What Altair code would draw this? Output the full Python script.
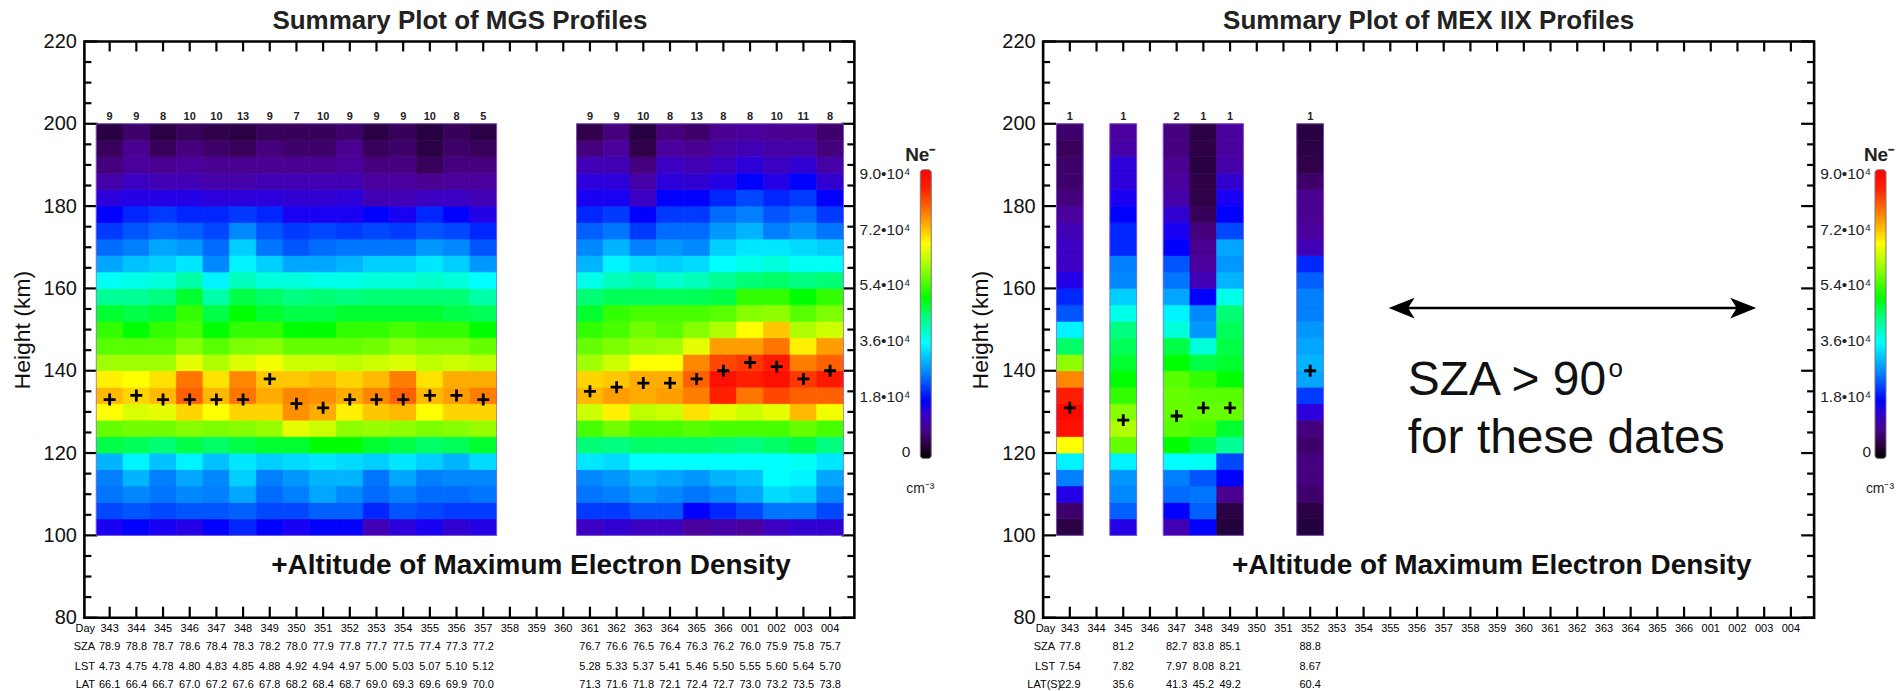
import altair as alt
import pandas as pd

FONT = "Liberation Sans"
DAYS = ["343","344","345","346","347","348","349","350","351","352","353","354","355","356","357","358","359","360","361","362","363","364","365","366","001","002","003","004"]
HEIGHTS = [102,106,110,114,118,122,126,130,134,138,142,146,150,154,158,162,166,170,174,178,182,186,190,194,198]

# Ne (units of 1e4 cm-3) per profile column, bottom to top
MGS_IDX = [0,1,2,3,4,5,6,7,8,9,10,11,12,13,14,18,19,20,21,22,23,24,25,26,27]
MGS_NE = [
 [1.7,2.1,2.5,2.6,3.0,4.8,5.4,6.7,7.2,6.8,6.0,5.3,5.1,4.9,4.3,3.7,2.9,2.4,2.0,1.8,1.5,1.1,0.8,0.6,0.35],
 [1.8,2.2,2.7,3.0,3.5,4.7,5.5,6.4,7.0,6.7,6.0,5.3,5.0,4.8,4.3,3.8,3.1,2.6,2.2,1.9,1.6,1.3,1.0,0.9,0.7],
 [1.7,2.1,2.5,2.6,3.1,4.5,5.5,6.5,7.2,6.9,6.0,5.3,5.1,4.9,4.4,3.9,3.2,2.9,2.4,2.0,1.6,1.2,0.9,0.6,0.4],
 [1.6,2.2,2.7,2.9,3.5,4.8,5.7,7.0,8.0,7.8,6.5,5.7,5.2,5.1,4.9,4.2,3.4,2.8,2.3,1.9,1.6,1.2,1.0,0.8,0.6],
 [1.8,2.2,2.6,2.7,3.1,4.6,5.6,6.7,7.2,6.9,6.1,5.3,5.0,4.8,4.2,3.5,2.7,2.4,2.1,1.9,1.5,1.1,0.9,0.7,0.5],
 [1.9,2.3,2.9,3.2,3.4,4.8,5.7,7.0,7.8,7.6,6.4,5.6,5.1,5.0,4.8,4.1,3.5,3.2,2.7,2.0,1.5,1.1,0.9,0.6,0.4],
 [1.8,2.1,2.4,2.6,3.2,4.9,5.9,7.0,7.3,7.1,6.6,5.7,5.1,4.9,4.6,3.9,3.2,2.5,2.2,1.9,1.5,1.2,0.9,0.8,0.6],
 [1.7,2.1,2.6,2.8,3.3,4.9,6.5,7.5,7.6,7.1,6.3,5.4,5.0,4.8,4.4,3.9,2.9,2.2,2.0,1.7,1.4,1.2,0.9,0.7,0.6],
 [1.8,2.3,2.9,3.0,3.4,5.0,6.3,7.3,7.5,7.2,6.3,5.4,5.0,4.8,4.5,3.8,2.9,2.4,2.1,1.7,1.4,1.2,0.9,0.7,0.6],
 [1.8,2.3,2.7,3.0,3.3,5.0,5.8,6.8,7.3,7.0,6.2,5.4,5.1,4.9,4.4,3.8,3.0,2.5,2.0,1.7,1.5,1.2,1.0,0.9,0.7],
 [1.2,1.9,2.4,2.5,3.2,4.9,5.9,7.1,7.6,7.2,6.3,5.5,5.1,4.9,4.5,3.9,3.2,2.5,2.1,1.8,1.2,1.0,0.8,0.6,0.4],
 [1.5,2.2,2.6,2.9,3.4,4.8,5.8,7.2,8.0,7.7,6.4,5.8,5.2,4.9,4.5,3.9,3.2,2.5,2.0,1.7,1.2,1.0,0.8,0.7,0.6],
 [1.7,2.1,2.4,2.6,3.2,4.6,5.6,6.7,7.2,6.9,6.2,5.6,5.1,4.9,4.5,4.0,3.4,2.8,2.2,1.9,1.3,0.9,0.6,0.4,0.3],
 [1.4,2.0,2.4,2.7,3.0,4.7,5.7,7.0,7.4,7.3,6.3,5.6,5.1,4.8,4.5,3.9,3.2,2.7,2.1,1.8,1.3,1.0,0.8,0.7,0.6],
 [1.6,2.0,2.5,2.7,3.3,4.9,5.9,7.0,7.7,7.3,6.2,5.4,5.0,4.7,4.2,3.6,2.8,2.2,1.9,1.6,1.2,1.0,0.8,0.6,0.4],
 [1.3,2.0,2.5,2.7,3.4,4.5,5.2,6.3,7.2,7.0,6.0,5.4,5.1,4.9,4.5,3.8,3.0,2.7,2.3,1.9,1.7,1.5,1.2,0.8,0.5],
 [1.4,2.0,2.6,2.8,3.3,4.4,5.5,6.8,7.4,7.1,6.3,5.6,5.2,5.1,4.7,4.1,3.5,3.0,2.5,2.0,1.7,1.5,1.2,1.0,0.8],
 [1.3,2.2,2.8,3.0,3.6,4.6,5.2,6.2,7.3,7.3,6.7,5.9,5.5,5.2,4.7,4.2,3.3,2.6,2.0,1.8,1.3,1.1,0.8,0.5,0.3],
 [1.3,2.2,2.7,2.9,3.6,4.6,5.2,6.3,7.4,7.3,6.7,6.0,5.3,5.2,4.7,4.0,3.2,2.8,2.4,2.0,1.8,1.5,1.3,1.0,0.8],
 [1.0,1.8,2.5,2.8,3.6,4.6,5.3,6.9,7.7,8.0,7.6,6.5,5.7,5.2,4.7,4.1,3.3,2.7,2.4,2.0,1.8,1.4,1.2,0.9,0.7],
 [1.1,1.9,2.7,3.0,3.6,4.5,5.2,6.5,8.4,8.8,8.2,7.4,6.1,5.3,4.8,4.3,3.6,3.2,2.8,2.4,1.9,1.6,1.3,1.1,0.9],
 [1.0,2.1,2.9,3.1,3.6,4.4,5.2,6.3,7.8,8.5,8.3,7.4,6.7,5.7,5.1,4.5,3.8,3.4,3.0,2.6,2.1,1.8,1.5,1.2,1.0],
 [1.3,2.5,3.3,3.6,3.6,4.6,5.2,6.5,8.2,8.8,8.6,7.8,7.1,5.8,5.1,4.6,3.9,3.4,2.6,2.2,1.9,1.6,1.3,1.1,0.9],
 [1.4,2.5,3.2,3.5,3.7,4.8,5.4,7.2,8.0,8.3,7.7,6.8,6.1,5.3,5.0,4.4,3.7,3.3,2.8,2.4,2.0,1.8,1.4,1.1,0.9],
 [1.4,2.1,2.7,2.9,3.4,4.4,5.2,6.6,8.0,8.6,8.0,7.4,6.3,5.6,5.1,4.5,3.7,3.2,2.5,2.0,1.8,1.4,1.1,0.8,0.7],
]
MGS_PEAK = [133,134,133,133,133,133,138,132,131,133,133,133,134,134,133,135,136,137,137,138,140,142,141,138,140]
MGS_COUNT = [9,9,8,10,10,13,9,7,10,9,9,9,10,8,5,9,9,10,8,13,8,8,10,11,8]
MGS_SZA = [78.9,78.8,78.7,78.6,78.4,78.3,78.2,78.0,77.9,77.8,77.7,77.5,77.4,77.3,77.2,76.7,76.6,76.5,76.4,76.3,76.2,76.0,75.9,75.8,75.7]
MGS_LST = [4.73,4.75,4.78,4.80,4.83,4.85,4.88,4.92,4.94,4.97,5.00,5.03,5.07,5.10,5.12,5.28,5.33,5.37,5.41,5.46,5.50,5.55,5.60,5.64,5.70]
MGS_LAT = [66.1,66.4,66.7,67.0,67.2,67.6,67.8,68.2,68.4,68.7,69.0,69.3,69.6,69.9,70.0,71.3,71.6,71.8,72.1,72.4,72.7,73.0,73.2,73.5,73.8]
MGS_BLOCKS = [(-0.5,14.5),(17.5,27.5)]

MEX_IDX = [0,2,4,5,6,9]
MEX_NE = [
 [0.4,0.7,1.6,2.6,3.5,6.7,8.8,8.9,8.5,7.6,5.8,4.6,3.5,2.2,1.9,1.6,1.3,1.3,1.2,1.0,0.8,0.7,0.7,0.6,0.7],
 [1.6,2.3,2.7,2.8,3.5,5.4,6.1,5.7,5.1,5.0,4.9,4.7,4.4,3.8,3.2,2.7,2.6,1.9,1.9,1.8,1.7,1.5,1.5,1.1,1.0],
 [1.2,1.8,2.4,2.6,3.6,5.0,5.3,5.4,5.4,5.3,5.0,4.8,3.9,3.5,2.9,2.5,2.2,1.8,1.7,1.4,1.1,1.0,0.9,0.8,0.8],
 [1.8,2.3,2.5,2.2,3.7,4.8,5.2,5.4,5.3,5.1,4.8,3.9,2.8,2.7,1.8,1.2,1.0,0.9,0.8,0.6,0.5,0.45,0.35,0.45,0.4],
 [0.15,0.4,0.9,1.8,2.1,4.3,4.9,5.4,5.3,5.0,4.9,4.8,4.7,4.5,3.8,3.0,2.8,2.9,2.1,1.8,1.7,1.4,1.1,1.0,1.0],
 [0.2,0.4,0.7,0.8,0.8,0.7,0.8,1.5,2.0,2.9,3.0,2.9,2.8,2.6,2.6,2.3,1.9,1.2,1.0,0.9,0.9,0.7,0.5,0.4,0.3],
]
MEX_PEAK = [131,128,129,131,131,140]
MEX_COUNT = [1,1,2,1,1,1]
MEX_SZA = [77.8,81.2,82.7,83.8,85.1,88.8]
MEX_LST = [7.54,7.82,7.97,8.08,8.21,8.67]
MEX_LAT = [22.9,35.6,41.3,45.2,49.2,60.4]
MEX_BLOCKS = [(-0.5,0.5),(1.5,2.5),(3.5,6.5),(8.5,9.5)]

CMAP_V = [0,0.5,0.9,1.4,1.8,2.7,3.6,4.4,5.0,6.0,6.7,7.5,8.4,9.0]
CMAP_C = ["#000000","#30004a","#4a0090","#3000d0","#0000ff","#0088ff","#00ffff","#00ff80","#00ff00","#a0ff00","#ffff00","#ff9000","#ff2000","#ff0000"]
BAR_TICKS = [0,1.8,3.6,5.4,7.2,9.0]
BAR_LABELS = ["0","1.8•10⁴","3.6•10⁴","5.4•10⁴","7.2•10⁴","9.0•10⁴"]
Y_MAJOR = [80,100,120,140,160,180,200,220]
Y_MINOR = [85,90,95,105,110,115,125,130,135,145,150,155,165,170,175,185,190,195,205,210,215]
ALT_NOTE = "+Altitude of Maximum Electron Density"

H = 577
ROW_Y = [588.5, 606.5, 626, 644.5]

def panel(title, dx, width, xdom, idx, ne, peak, count, sza, lst, lat, blocks, lat_name, note_x, extra=None):
    xs = alt.Scale(domain=xdom, nice=False, zero=False)
    ys = alt.Scale(domain=[80,220], nice=False, zero=False)
    ne_scale = alt.Scale(domain=CMAP_V, range=CMAP_C)
    yaxis = alt.Axis(values=Y_MAJOR, labelFontSize=20, labelFont=FONT, labelColor="#111", labelPadding=8, ticks=False, domain=False, grid=False, title="Height (km)", titleFontSize=23, titleFont=FONT, titleFontWeight="normal", titleColor="#111", titlePadding=9)
    X = lambda f: alt.X(f, type="quantitative", scale=xs, axis=None)
    Y = lambda f: alt.Y(f, type="quantitative", scale=ys, axis=yaxis)
    heat = pd.DataFrame([
        {"x0": i-0.5, "x1": i+0.5, "y0": h-2, "y1": h+2, "ne": v}
        for i, col in zip(idx, ne) for h, v in zip(HEIGHTS, col)])
    days = pd.DataFrame({"i": list(range(len(DAYS))), "d": DAYS})
    ymaj = pd.DataFrame({"y": Y_MAJOR})
    ymin = pd.DataFrame({"y": Y_MINOR})
    blk = pd.DataFrame(blocks, columns=["a","b"])
    blk["t"] = 100
    blk["u"] = 200
    layers = [
        alt.Chart(ymaj).mark_rule(color="black", strokeWidth=2.2).encode(x=alt.value(0), x2=alt.value(13), y=Y("y")),
        alt.Chart(ymaj).mark_rule(color="black", strokeWidth=2.2).encode(x=alt.value(width-13), x2=alt.value(width), y=Y("y")),
        alt.Chart(ymin).mark_rule(color="black", strokeWidth=2.2).encode(x=alt.value(0), x2=alt.value(7), y=Y("y")),
        alt.Chart(ymin).mark_rule(color="black", strokeWidth=2.2).encode(x=alt.value(width-7), x2=alt.value(width), y=Y("y")),
        alt.Chart(days).mark_rule(color="black", strokeWidth=2.2).encode(x=X("i"), y=alt.value(0), y2=alt.value(10)),
        alt.Chart(days).mark_rule(color="black", strokeWidth=2.2).encode(x=X("i"), y=alt.value(H-11), y2=alt.value(H)),
        alt.Chart(heat).mark_rect(strokeWidth=0.7).encode(
            x=X("x0"), x2="x1", y=Y("y0"), y2="y1",
            color=alt.Color("ne:Q", scale=ne_scale, legend=None),
            stroke=alt.Stroke("ne:Q", scale=ne_scale, legend=None)),
        alt.Chart(blk).mark_rect(fillOpacity=0, stroke="#9060d0", strokeWidth=1, strokeOpacity=0.7).encode(
            x=X("a"), x2="b", y=Y("t"), y2="u"),
        alt.Chart(pd.DataFrame({"x":[0]})).mark_rect(fillOpacity=0, stroke="black", strokeWidth=2.6).encode(
            x=alt.value(0), x2=alt.value(width), y=alt.value(0), y2=alt.value(H)),
        alt.Chart(pd.DataFrame({"i": idx, "p": peak})).mark_point(shape="M-1,0L1,0M0,-1L0,1", filled=False, size=144, color="black", opacity=1, strokeWidth=2.8).encode(x=X("i"), y=Y("p")),
        alt.Chart(pd.DataFrame({"i": idx, "c": count, "y": [201.6]*len(idx)})).mark_text(font=FONT, fontSize=11, fontWeight="bold", color="#222", baseline="middle").encode(x=X("i"), y=Y("y"), text="c:N"),
    ]
    # table below the plot
    rows = [("Day", None), ("SZA", sza), ("LST", lst), (lat_name, lat)]
    for k, (name, vals) in enumerate(rows):
        if vals is None:
            df = days.rename(columns={"d": "t"})
        else:
            fmt = "{:.2f}" if name == "LST" else "{:.1f}"
            df = pd.DataFrame({"i": idx, "t": [fmt.format(v) for v in vals]})
        layers.append(alt.Chart(df).mark_text(font=FONT, fontSize=11, color="#000", baseline="middle").encode(x=X("i"), y=alt.value(ROW_Y[k]), text="t:N"))
        pos = -0.32 if name == "LAT(S)" else -0.55
        layers.append(alt.Chart(pd.DataFrame({"t": [name], "i": [pos]})).mark_text(font=FONT, fontSize=11, color="#000", baseline="middle", align="right").encode(x=X("i"), y=alt.value(ROW_Y[k]), text="t:N"))
    layers.append(alt.Chart(pd.DataFrame({"t": [ALT_NOTE]})).mark_text(font=FONT, fontSize=28, fontWeight="bold", color="#111", align="left", baseline="middle").encode(x=alt.value(note_x), y=alt.value(525.5), text="t:N"))
    if extra:
        layers.extend(extra)
    return alt.layer(*layers).properties(
        width=width, height=H,
        title=alt.TitleParams(title, font=FONT, fontSize=26, fontWeight="bold", color="#222", anchor="middle", dx=dx, offset=-3))

def colorbar(width, bar_x, label_x, ne_x, cm_x):
    bar_y = alt.Scale(domain=[0,9], range=[411.5,132.5])
    ticks = pd.DataFrame({"v": BAR_TICKS, "t": BAR_LABELS})
    grad = alt.Gradient(gradient="linear", x1=0, x2=0, y1=1, y2=0,
                        stops=[alt.GradientStop(color=c, offset=v/9) for v, c in zip(CMAP_V, CMAP_C)])
    one = pd.DataFrame({"x": [0]})
    return alt.layer(
        alt.Chart(one).mark_rect(fill=grad, stroke="#777", strokeWidth=1, cornerRadius=3).encode(
            x=alt.value(bar_x), x2=alt.value(bar_x+11), y=alt.value(128.5), y2=alt.value(417.5)),
        alt.Chart(ticks).mark_text(font=FONT, fontSize=15.5, color="#222", align="right", baseline="middle").encode(
            x=alt.value(label_x), y=alt.Y("v:Q", scale=bar_y, axis=None), text="t:N"),
        alt.Chart(pd.DataFrame({"t": ["Ne⁻"]})).mark_text(font=FONT, fontSize=19, fontWeight="bold", color="#222", align="center", baseline="middle").encode(
            x=alt.value(ne_x), y=alt.value(113.5), text="t:N"),
        alt.Chart(pd.DataFrame({"t": ["cm⁻³"]})).mark_text(font=FONT, fontSize=14, color="#222", align="center", baseline="middle").encode(
            x=alt.value(cm_x), y=alt.value(448.5), text="t:N"),
    ).properties(width=width, height=H)

ARROW_L = "M-1,0L1,-0.8L0.5,0L1,0.8Z"
ARROW_R = "M1,0L-1,-0.8L-0.5,0L-1,0.8Z"
one = pd.DataFrame({"x": [0]})
extra = [
    alt.Chart(one).mark_rule(color="black", strokeWidth=2.5).encode(x=alt.value(354), x2=alt.value(704), y=alt.value(267)),
    alt.Chart(one).mark_point(shape=ARROW_L, filled=True, size=676, color="black", opacity=1).encode(x=alt.value(359), y=alt.value(267)),
    alt.Chart(one).mark_point(shape=ARROW_R, filled=True, size=676, color="black", opacity=1).encode(x=alt.value(701), y=alt.value(267)),
    alt.Chart(pd.DataFrame({"t": ["SZA > 90"]})).mark_text(font=FONT, fontSize=48, color="#111", align="left", baseline="middle").encode(x=alt.value(365), y=alt.value(340.5), text="t:N"),
    alt.Chart(pd.DataFrame({"t": ["o"]})).mark_text(font=FONT, fontSize=26, color="#111", align="left", baseline="middle").encode(x=alt.value(566), y=alt.value(328), text="t:N"),
    alt.Chart(pd.DataFrame({"t": ["for these dates"]})).mark_text(font=FONT, fontSize=48, color="#111", align="left", baseline="middle").encode(x=alt.value(365), y=alt.value(398.5), text="t:N"),
]

left = panel("Summary Plot of MGS Profiles", -9.5, 771, [-0.947, 27.91], MGS_IDX, MGS_NE, MGS_PEAK, MGS_COUNT, MGS_SZA, MGS_LST, MGS_LAT, MGS_BLOCKS, "LAT", 187)
right = panel("Summary Plot of MEX IIX Profiles", 0, 772, [-1.0, 27.87], MEX_IDX, MEX_NE, MEX_PEAK, MEX_COUNT, MEX_SZA, MEX_LST, MEX_LAT, MEX_BLOCKS, "LAT(S)", 189, extra)
barL = colorbar(189, 66, 56, 66, 66)
barR = colorbar(77, 61, 57, 65, 66)

chart = alt.hconcat(left, barL, right, barR, spacing=0, bounds="flush").properties(
    padding={"left": 2.5, "top": 0, "right": 0, "bottom": 74},
    background="white",
).configure_view(stroke=None)

chart.save("out.html", embed_options={"renderer": "svg", "actions": False})
